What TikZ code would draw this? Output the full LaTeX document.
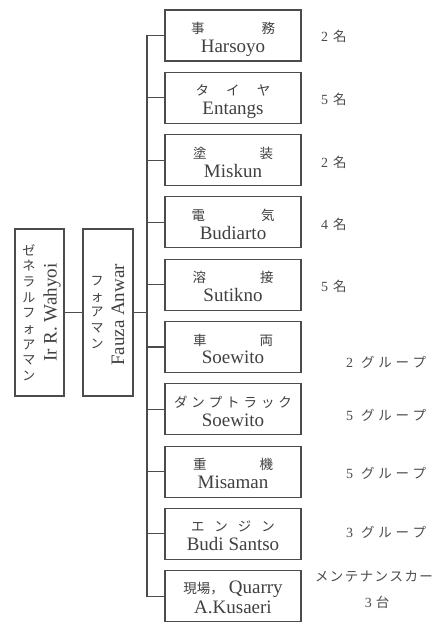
\documentclass[tikz,border=0pt]{standalone}
\usepackage{fontspec}
\setmainfont{Liberation Serif}
\newfontfamily\cjk{Noto Sans CJK JP}
\usetikzlibrary{calc}
\tikzset{
 box/.style={draw=black!70, line width=1.1pt, minimum width=136pt, minimum height=51pt, inner sep=0pt},
 tall/.style={draw=black!70, line width=1.1pt, minimum width=49pt, minimum height=167pt, inner sep=0pt},
 jp/.style={inner sep=0pt, text=black!75, font=\cjk\fontsize{13.5}{13.5}\selectfont},
 lat/.style={inner sep=0pt, text=black!75, font=\fontsize{19}{19}\selectfont, anchor=base},
 cnt/.style={inner sep=0pt, text=black!70, anchor=west},
 ln/.style={draw=black!70, line width=1.1pt}
}
\newcommand{\jsp}[2]{\makebox[#1][s]{#2}}
\newcommand{\numb}[1]{{\fontsize{14}{14}\selectfont #1}}
\newcommand{\jch}[1]{{\cjk\fontsize{13.5}{13.5}\selectfont #1}}
\newcommand{\staff}[3]{%
 \node[box] (b#1) at (233, {35.5+62.3*(#1-1)}) {};
 \node[jp] (b#1j) at ($(b#1.north)+(0,19)$) {#2};
 \node[lat] (b#1l) at ($(b#1.north)+(0,43)$) {#3};
}
\begin{document}
\begin{tikzpicture}[x=1pt,y=-1pt]
\useasboundingbox (0,0) rectangle (436,622);
\fill[white] (0,0) rectangle (436,622);

% left boxes
\node[tall] (A) at (39.5,312.5) {};
\node[tall, minimum width=50pt] (B) at (108,312.5) {};
\node[jp, align=center, font=\cjk\fontsize{13}{15.7}\selectfont] (Aj) at (29,312.5) {ゼ\\ネ\\ラ\\ル\\フ\\ォ\\ア\\マ\\ン};
\node[lat, anchor=center, rotate=90] (Al) at (52,312.5) {Ir R. Wahyoi};
\node[jp, align=center, font=\cjk\fontsize{13}{15.7}\selectfont] (Bj) at (97,312.5) {フ\\ォ\\ア\\マ\\ン};
\node[lat, anchor=center, rotate=90] (Bl) at (118,315) {Fauza Anwar};

% staff boxes
\staff{1}{\jsp{84pt}{事\hfill 務}}{Harsoyo}
\staff{2}{\jsp{75pt}{タ\hfill イ\hfill ヤ}}{Entangs}
\staff{3}{\jsp{80pt}{塗\hfill 装}}{Miskun}
\staff{4}{\jsp{83pt}{電\hfill 気}}{Budiarto}
\staff{5}{\jsp{81pt}{溶\hfill 接}}{Sutikno}
\staff{6}{\jsp{80pt}{車\hfill 両}}{Soewito}
\staff{7}{\jsp{118pt}{ダ\hfill ン\hfill プ\hfill ト\hfill ラ\hfill ッ\hfill ク}}{Soewito}
\staff{8}{\jsp{80pt}{重\hfill 機}}{Misaman}
\staff{9}{\jsp{84pt}{エ\hfill ン\hfill ジ\hfill ン}}{Budi Santso}
\node[box] (b10) at (233, {35.5+62.3*9}) {};
\node[lat] (b10j) at ($(b10.north)+(0,23.5)$) {{\cjk\fontsize{13.5}{13.5}\selectfont 現場，}\hspace{5pt}Quarry};
\node[lat] (b10l) at ($(b10.north)+(0,43.5)$) {A.Kusaeri};

% connectors
\coordinate (t) at (147,312.5);
\draw[ln] (A.east) -- (B.west);
\draw[ln] (B.east) -- (t);
\draw[ln] (b1.west) -- (b1.west -| t) -- (b10.west -| t) -- (b10.west);
\foreach \i in {2,...,9} \draw[ln] (b\i.west) -- (b\i.west -| t);

% counts
\node[cnt] (c1) at (321,36) {\numb{2}\hspace{5pt}\jch{名}};
\node[cnt] (c2) at (321,99) {\numb{5}\hspace{5pt}\jch{名}};
\node[cnt] (c3) at (321,162) {\numb{2}\hspace{5pt}\jch{名}};
\node[cnt] (c4) at (321,224) {\numb{4}\hspace{5pt}\jch{名}};
\node[cnt] (c5) at (321,286) {\numb{5}\hspace{5pt}\jch{名}};
\node[cnt] (c6) at (346,362) {\numb{2}\hspace{8pt}\jch{\jsp{65pt}{グ\hfill ル\hfill ー\hfill プ}}};
\node[cnt] (c7) at (346,415) {\numb{5}\hspace{8pt}\jch{\jsp{65pt}{グ\hfill ル\hfill ー\hfill プ}}};
\node[cnt] (c8) at (346,473) {\numb{5}\hspace{8pt}\jch{\jsp{65pt}{グ\hfill ル\hfill ー\hfill プ}}};
\node[cnt] (c9) at (346,532) {\numb{3}\hspace{8pt}\jch{\jsp{65pt}{グ\hfill ル\hfill ー\hfill プ}}};
\node[cnt, anchor=center] (c10a) at (374,577) {\jch{\jsp{118pt}{メ\hfill ン\hfill テ\hfill ナ\hfill ン\hfill ス\hfill カ\hfill ー}}};
\node[cnt, anchor=center] (c10b) at (377,602) {\numb{3}\hspace{4pt}\jch{台}};
\end{tikzpicture}
\end{document}
